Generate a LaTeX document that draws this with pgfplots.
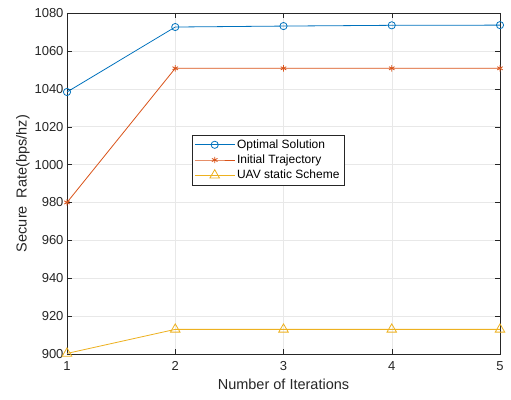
\documentclass[border=0pt]{standalone}
\usepackage{pgfplots}
\pgfplotsset{compat=1.18}
\usepackage{fontspec}
\setmainfont{Liberation Sans}
\definecolor{c1}{rgb}{0,0.447,0.741}
\definecolor{c2}{rgb}{0.85,0.325,0.098}
\definecolor{c3}{rgb}{0.929,0.694,0.125}
\definecolor{axc}{rgb}{0.15,0.15,0.15}
\begin{document}
\begin{tikzpicture}
\begin{axis}[
  scale only axis,
  width=433pt, height=341pt,
  xmin=1, xmax=5, ymin=900, ymax=1080,
  xtick={1,2,3,4,5},
  ytick={900,920,...,1080},
  /pgf/number format/assume math mode=true,
  /pgf/number format/1000 sep={},
  tick label style={font=\fontsize{13}{15}\selectfont, text=axc},
  xticklabel style={yshift=-4pt},
  label style={font=\fontsize{14.5}{16}\selectfont, text=axc},
  xlabel={Number of Iterations},
  ylabel={Secure\ \ Rate(bps/hz)},
  xlabel style={yshift=-1pt},
  ylabel style={yshift=-2pt},
  axis line style={axc, line width=0.6pt},
  major tick style={axc},
  tick align=inside,
  major tick length=5pt,
  grid=major,
  grid style={gray!18, line width=0.4pt},
  legend style={at={(axis cs:2.152,1015.6)}, anchor=north west,
    font=\fontsize{12}{14}\selectfont, draw=axc, row sep=1pt,
    inner sep=2.5pt},
  legend cell align=left,
  every axis plot/.append style={
    legend image code/.code={\draw[mark repeat=2,mark phase=2] plot coordinates {(0cm,0cm) (0.7cm,0cm) (1.4cm,0cm)};}},
]
\addplot[c1, line width=0.8pt, mark=o, mark size=3.6pt, mark options={solid}]
  coordinates {(1,1038.3) (2,1072.6) (3,1073.1) (4,1073.5) (5,1073.6)};
\addlegendentry{Optimal Solution}
\addplot[c2, line width=0.8pt, mark=asterisk, mark size=3.2pt]
  coordinates {(1,980) (2,1050.8) (3,1050.8) (4,1050.8) (5,1050.8)};
\addlegendentry{Initial Trajectory}
\addplot[c3, line width=0.8pt, mark=triangle, mark size=5.5pt]
  coordinates {(1,900.3) (2,913) (3,913) (4,913) (5,913)};
\addlegendentry{UAV static Scheme}
\end{axis}
\useasboundingbox ([shift={(-67pt,-45pt)}]current axis.south west) rectangle ([shift={(11pt,13pt)}]current axis.north east);
\end{tikzpicture}
\end{document}
